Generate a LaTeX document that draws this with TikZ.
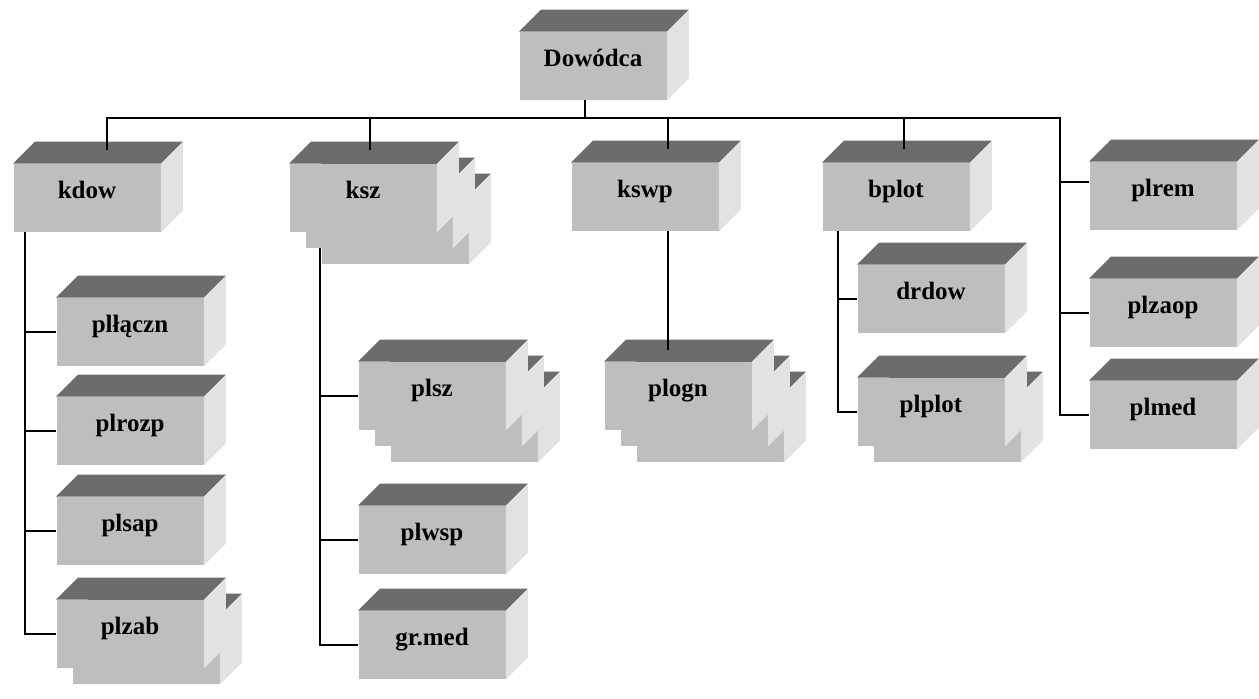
\documentclass[tikz,border=0pt]{standalone}
\usepackage{fontspec}
\setmainfont{Liberation Serif}
\usepackage{xcolor}
\usetikzlibrary{calc}

\definecolor{przod}{RGB}{190,190,190}
\definecolor{wierzch}{RGB}{108,108,108}
\definecolor{scianka}{RGB}{226,226,226}

\newcommand{\glab}{22}
% one block: front face (named node), top face, right face
\newcommand{\bryla}[3]{%
  \node[skrzynka] (#1) at (#2) {#3};
  \fill[gora] (#1.north west) -- ++(\glab,-\glab) -- ($(#1.north east)+(\glab,-\glab)$) -- (#1.north east) -- cycle;
  \fill[bok] (#1.north east) -- ++(\glab,-\glab) -- ($(#1.south east)+(\glab,-\glab)$) -- (#1.south east) -- cycle;
}
% block with [n] copies stacked behind it
\newcommand{\blok}[4][0]{%
  \ifnum#1>1 \bryla{#2b}{$(#3)+(32,32)$}{}\fi
  \ifnum#1>0 \bryla{#2a}{$(#3)+(16,16)$}{}\fi
  \bryla{#2}{#3}{#4}}

\begin{document}
\begin{tikzpicture}[x=0.5pt,y=-0.5pt,
    skrzynka/.style={fill=przod,minimum width=73.5pt,minimum height=34pt,inner sep=0pt,
      text height=6pt,text depth=6pt,font=\fontsize{12.5}{15}\selectfont\bfseries},
    gora/.style={fill=wierzch},
    bok/.style={fill=scianka},
    linia/.style={line width=0.7pt}]
    \useasboundingbox[fill=white] (0,0) rectangle (1259,698);

    % level 0 and 1
    \blok{dowodca}{593,66}{Dowódca}
    \blok{kdow}{87,198}{kdow}
    \blok[2]{ksz}{363,198}{ksz}
    \blok{kswp}{645,197}{kswp}
    \blok{bplot}{896,197}{bplot}
    \blok{plrem}{1163,196}{plrem}
    \blok{plzaop}{1163,313}{plzaop}
    \blok{plmed}{1163,415}{plmed}

    % level 2
    \blok{placzn}{130,332}{plłączn}
    \blok{plrozp}{130,431}{plrozp}
    \blok{plsap}{130,531}{plsap}
    \blok[1]{plzab}{130,634}{plzab}
    \blok[2]{plsz}{432,396}{plsz}
    \blok{plwsp}{432,540}{plwsp}
    \blok{grmed}{432,645}{gr.med}
    \blok[2]{plogn}{678,396}{plogn}
    \blok{drdow}{931,299}{drdow}
    \blok[1]{plplot}{931,412}{plplot}

    % connectors
    \coordinate (prawy) at (1060,118);
    \coordinate (dowDol) at ($(dowodca.south)+(-8,0)$);
    \draw[linia] (dowDol) -- (dowDol |- prawy);
    \coordinate (kdowGora) at ($(kdow.north)+(20,-14)$);
    \draw[linia] (kdowGora) |- (prawy) |- (plmed.west);
    \foreach \n/\s in {ksz/7,kswp/23,bplot/8}{
      \coordinate (g) at ($(\n.north)+(\s,-14)$);
      \draw[linia] (g) -- (g |- prawy);
    }
    \coordinate (remStub) at ($(plrem.west)+(0,-14)$);
    \draw[linia] (remStub) -- (remStub -| prawy);
    \draw[linia] (plzaop.west) -- (plzaop.west -| prawy);

    \coordinate (kdowDol) at ($(kdow.south west)+(12,0)$);
    \draw[linia] (kdowDol) |- (plzab.west);
    \foreach \n in {placzn,plrozp,plsap}
      \draw[linia] (\n.west) -- (\n.west -| kdowDol);

    \coordinate (kszDol) at ($(ksz.south west)+(31,16)$);
    \draw[linia] (kszDol) |- (grmed.west);
    \foreach \n in {plsz,plwsp}
      \draw[linia] (\n.west) -- (\n.west -| kszDol);

    \coordinate (kswpDol) at ($(kswp.south)+(23,0)$);
    \draw[linia] (kswpDol) -- ($(kswpDol |- plogn.north)+(0,-12)$);

    \coordinate (bplotDol) at ($(bplot.south west)+(16,0)$);
    \draw[linia] (bplotDol) |- (plplot.west);
    \draw[linia] (drdow.west) -- (drdow.west -| bplotDol);
\end{tikzpicture}
\end{document}
